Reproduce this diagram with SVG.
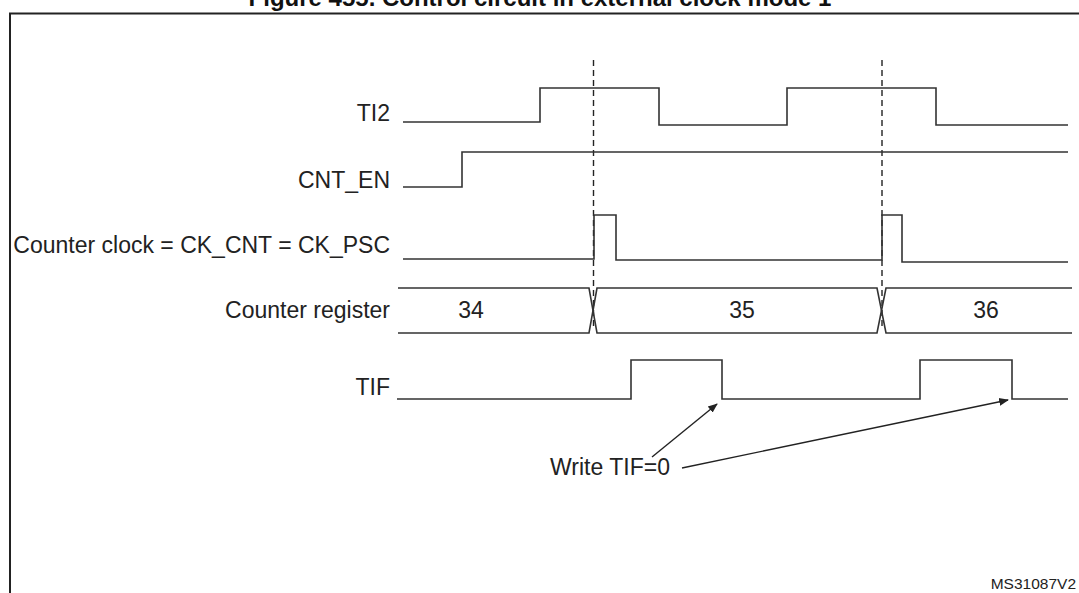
<svg xmlns="http://www.w3.org/2000/svg" width="1079" height="593" viewBox="0 0 1079 593">
<defs>
<style>
.t{font-family:"Liberation Sans",Arial,sans-serif;font-size:23px;fill:#222}
.w{fill:none;stroke:#333;stroke-width:1.6}
.d{fill:none;stroke:#222;stroke-width:1.4;stroke-dasharray:6,4}
</style>
<marker id="ah" viewBox="0 0 10 10" refX="9" refY="5" markerWidth="7" markerHeight="7" orient="auto"><path d="M0,1 L10,5 L0,9 z" fill="#222"/></marker>
</defs>
<rect width="1079" height="593" fill="#fff"/>
<text x="540" y="6" text-anchor="middle" style="font-family:'Liberation Sans',Arial,sans-serif;font-size:24px;font-weight:bold;fill:#111">Figure 455. Control circuit in external clock mode 1</text>
<path d="M10,600 V13.5 H1090" fill="none" stroke="#222" stroke-width="2"/>
<g id="labels">
<text class="t" x="390" y="121" text-anchor="end">TI2</text>
<text class="t" x="390" y="188" text-anchor="end">CNT_EN</text>
<text class="t" x="390" y="253" text-anchor="end">Counter clock = CK_CNT = CK_PSC</text>
<text class="t" x="390" y="318" text-anchor="end">Counter register</text>
<text class="t" x="390" y="395" text-anchor="end">TIF</text>
</g>
<g id="guides">
<line class="d" x1="593.5" y1="60" x2="593.5" y2="326"/>
<line class="d" x1="882" y1="60" x2="882" y2="326"/>
</g>
<g id="ti2"><path class="w" d="M403,122 H540 V88 H659 V125 H787 V88 H936 V125 H1068"/></g>
<g id="cnt_en"><path class="w" d="M403,187 H462 V152 H1068"/></g>
<g id="ck_cnt"><path class="w" d="M403,259 H594 V215 H616 V260 H882 V215 H902 V262 H1068"/></g>
<g id="counter">
<path class="w" d="M398,288 H589 L597,333 H877 L886,288 H1072"/>
<path class="w" d="M398,333 H589 L597,288 H877 L886,333 H1072"/>
<text class="t" x="471" y="318" text-anchor="middle">34</text>
<text class="t" x="742" y="318" text-anchor="middle">35</text>
<text class="t" x="986" y="318" text-anchor="middle">36</text>
</g>
<g id="tif"><path class="w" d="M397,399 H631 V360 H722 V399 H920 V360 H1012 V399 H1068"/></g>
<g id="connectors">
<line x1="652" y1="457" x2="717" y2="404" stroke="#222" stroke-width="1.4" marker-end="url(#ah)"/>
<line x1="682" y1="468" x2="1008" y2="400" stroke="#222" stroke-width="1.4" marker-end="url(#ah)"/>
</g>
<g id="note"><text class="t" x="610" y="475" text-anchor="middle">Write TIF=0</text></g>
<text x="1076" y="589" text-anchor="end" style="font-family:'Liberation Sans',Arial,sans-serif;font-size:15.5px;fill:#222">MS31087V2</text>
</svg>
